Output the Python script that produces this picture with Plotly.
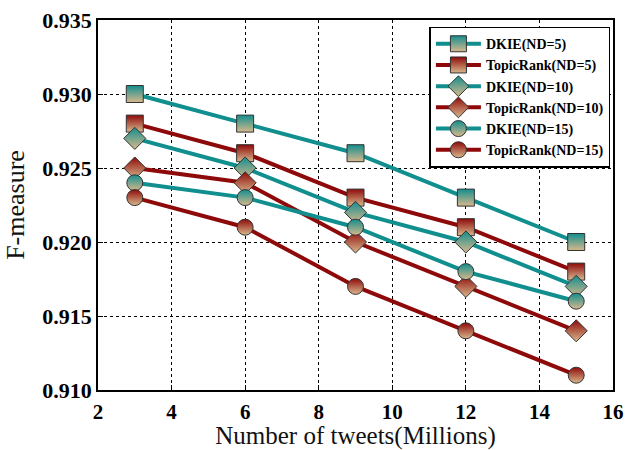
import plotly.graph_objects as go

x_vals = [3, 6, 9, 12, 15]
dkie_nd5 = [0.930, 0.928, 0.926, 0.923, 0.920]
tr_nd5 = [0.928, 0.926, 0.923, 0.921, 0.918]
dkie_nd10 = [0.927, 0.925, 0.922, 0.920, 0.917]
tr_nd10 = [0.925, 0.924, 0.920, 0.917, 0.914]
dkie_nd15 = [0.924, 0.923, 0.921, 0.918, 0.916]
tr_nd15 = [0.923, 0.921, 0.917, 0.914, 0.911]

series_names = ["DKIE(ND=5)", "TopicRank(ND=5)", "DKIE(ND=10)",
                "TopicRank(ND=10)", "DKIE(ND=15)", "TopicRank(ND=15)"]
series_vals = [dkie_nd5, tr_nd5, dkie_nd10, tr_nd10, dkie_nd15, tr_nd15]
x_ticks = [2, 4, 6, 8, 10, 12, 14, 16]
y_ticks = [0.910, 0.915, 0.920, 0.925, 0.930, 0.935]

TEAL = "#118e8e"
RED = "#8e0a0a"
TAN = "#d8b88c"
colors = [TEAL, RED, TEAL, RED, TEAL, RED]
symbols = ["square", "square", "diamond", "diamond", "circle", "circle"]
sizes = [17, 17, 17, 17, 16, 16]

FONT = "Liberation Serif"

fig = go.Figure()
for name, vals, c, s, sz in zip(series_names, series_vals, colors, symbols, sizes):
    fig.add_trace(go.Scatter(
        x=x_vals, y=vals, name=name, mode="lines+markers",
        line=dict(color=c, width=4),
        marker=dict(symbol=s, size=sz, color=c,
                    gradient=dict(type="vertical", color=TAN),
                    line=dict(color="#333333", width=1)),
    ))

fig.update_layout(
    width=630, height=450,
    margin=dict(l=98, r=17, t=20, b=60),
    paper_bgcolor="white", plot_bgcolor="white",
    font=dict(family=FONT, color="black"),
    showlegend=True,
    legend=dict(x=0.995, y=0.982, xanchor="right", yanchor="top",
                bordercolor="black", borderwidth=1.5, bgcolor="white",
                font=dict(family=FONT, size=14, color="black", weight="bold"),
                tracegroupgap=0, itemwidth=45),
)
fig.update_xaxes(
    range=[2, 16], tickvals=x_ticks, automargin=False,
    showgrid=True, gridcolor="black", griddash="dot", gridwidth=1,
    showline=True, linecolor="black", linewidth=1.5, mirror=True,
    ticks="inside", ticklen=5, tickcolor="black", zeroline=False,
    ticklabelstandoff=2,
    tickfont=dict(family=FONT, size=21, color="black", weight="bold"),
    title=dict(text="Number of tweets(Millions)",
               font=dict(family=FONT, size=25, color="#111111"), standoff=0),
)
fig.update_yaxes(
    range=[0.910, 0.935], tickvals=y_ticks, tickformat=".3f", automargin=False,
    showgrid=True, gridcolor="black", griddash="dot", gridwidth=1,
    showline=True, linecolor="black", linewidth=1.5, mirror=True,
    ticks="inside", ticklen=5, tickcolor="black", zeroline=False,
    tickfont=dict(family=FONT, size=22, color="black", weight="bold"),
    title=dict(text="F-measure",
               font=dict(family=FONT, size=26, color="#111111"), standoff=10),
)

fig.write_html(
    "out.html",
    config={"displayModeBar": False},
    post_script="document.body.style.margin='0';document.body.style.overflow='hidden';",
)
